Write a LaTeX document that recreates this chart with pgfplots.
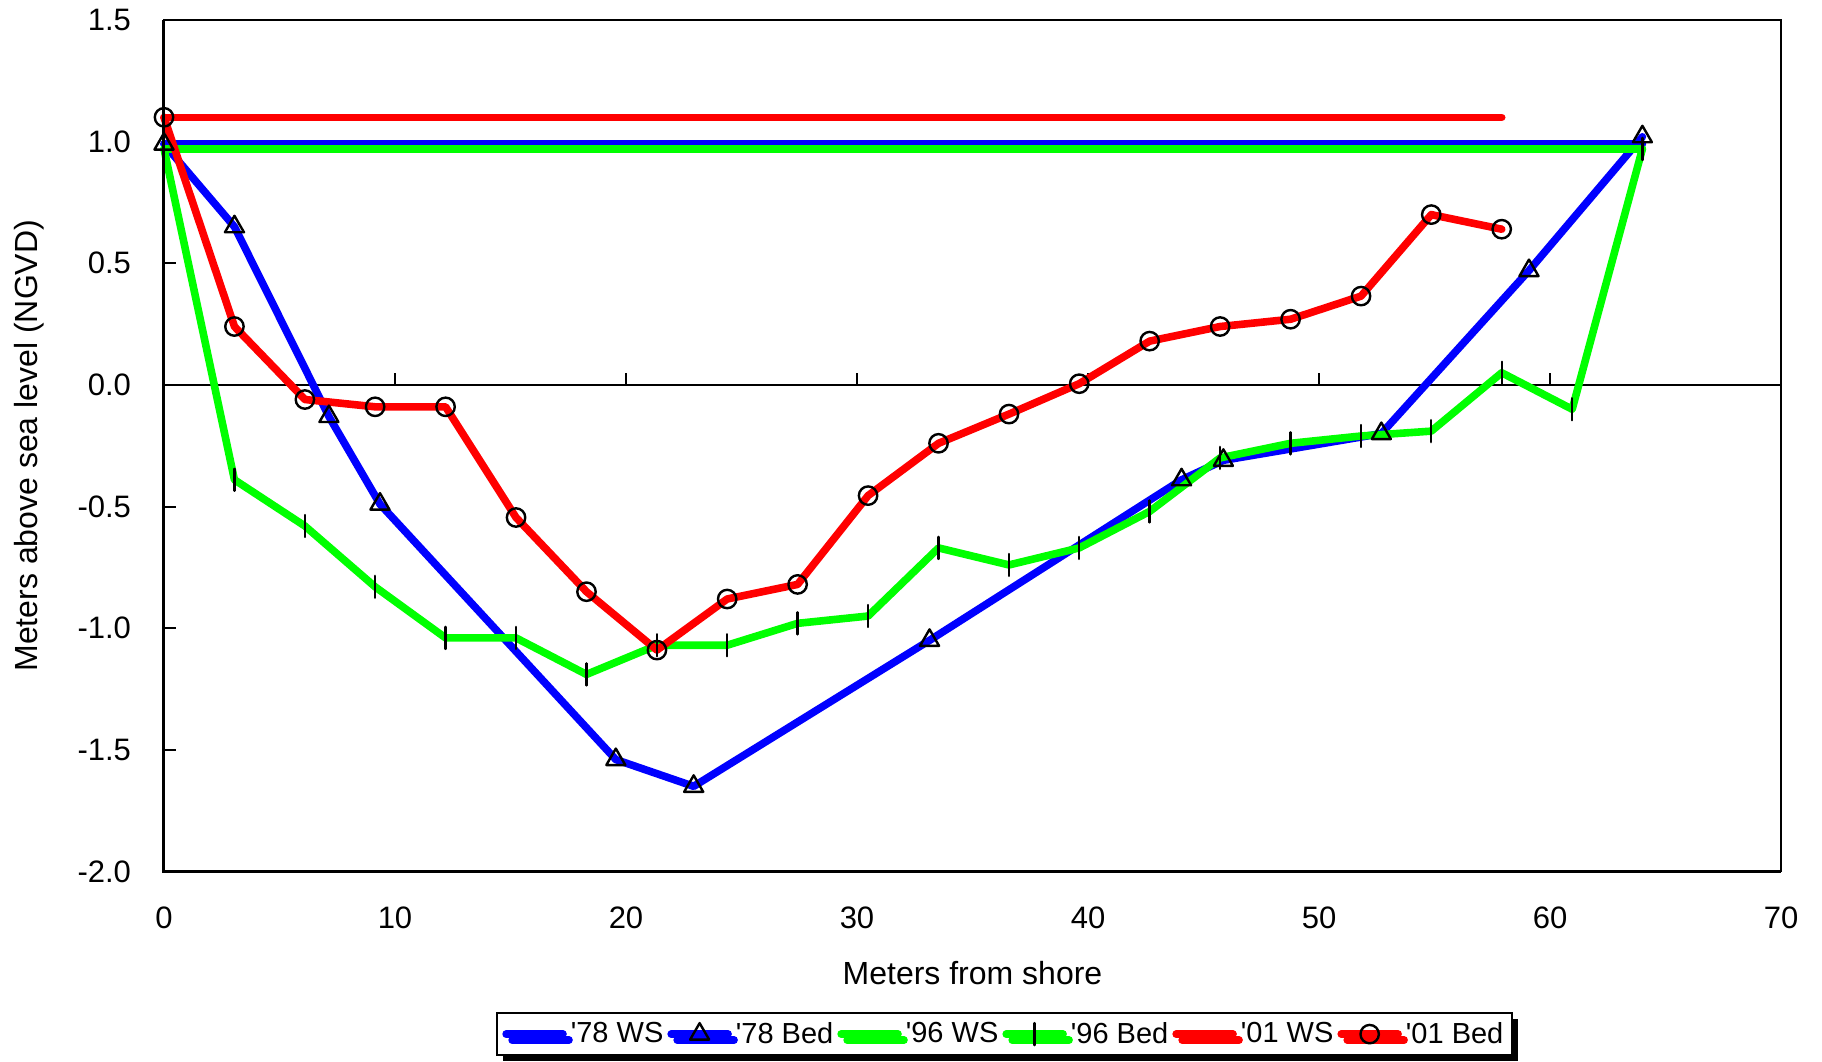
\documentclass[border=0pt]{standalone}
\usepackage{fontspec}
\setmainfont{Liberation Sans}
\usepackage{pgfplots}
\usepackage{pgfplotstable}
\pgfplotsset{compat=1.18}
\usetikzlibrary{shadows}
\definecolor{pblue}{RGB}{0,0,255}
\definecolor{pgreen}{RGB}{0,255,0}
\definecolor{pred}{RGB}{255,0,0}

\pgfplotstableread{
x y
0 0.99
64.0 0.99
}\wsA
\pgfplotstableread{
x y
0 0.99
3.05 0.65
7.14 -0.13
9.35 -0.49
19.56 -1.54
22.93 -1.65
33.14 -1.05
44.05 -0.39
45.86 -0.31
52.70 -0.20
59.09 0.47
64.00 1.02
}\bedA
\pgfplotstableread{
x y
0 0.97
64.0 0.97
}\wsB
\pgfplotstableread{
x y
0 0.97
3.05 -0.39
6.10 -0.58
9.14 -0.83
12.19 -1.04
15.24 -1.04
18.29 -1.19
21.34 -1.07
24.38 -1.07
27.43 -0.98
30.48 -0.95
33.53 -0.67
36.58 -0.74
39.62 -0.67
42.67 -0.52
45.72 -0.30
48.77 -0.24
51.82 -0.21
54.86 -0.19
57.91 0.05
60.96 -0.10
64.00 0.97
}\bedB
\pgfplotstableread{
x y
0 1.10
57.91 1.10
}\wsC
\pgfplotstableread{
x y
0 1.10
3.05 0.24
6.10 -0.06
9.14 -0.09
12.19 -0.09
15.24 -0.545
18.29 -0.85
21.34 -1.09
24.38 -0.88
27.43 -0.82
30.48 -0.455
33.53 -0.24
36.58 -0.12
39.62 0.005
42.67 0.18
45.72 0.24
48.77 0.27
51.82 0.365
54.86 0.70
57.91 0.64
}\bedC

\begin{document}
\begin{tikzpicture}
\begin{axis}[name=ax, scale only axis, width=808.5pt, height=425.75pt,
  xmin=0, xmax=70, ymin=-2, ymax=1.5,
  xtick={0,10,...,70}, ytick={-2,-1.5,...,1.5},
  clip=false,
  axis line style={line width=0.8pt},
  tick align=inside, ytick pos=left, xtick pos=bottom,
  major tick length=6pt,
  xtick style={draw=none}, ytick style={line width=1pt,black},
  /pgf/number format/assume math mode=true,
  ticklabel style={font=\fontsize{15.5}{18}\selectfont},
  yticklabel style={xshift=-13pt,/pgf/number format/.cd,fixed,fixed zerofill,precision=1},
  xticklabel style={yshift=-14pt,/pgf/number format/.cd,fixed,precision=0},
  xlabel={Meters from shore}, ylabel={Meters above sea level (NGVD)},
  label style={font=\fontsize{16}{19}\selectfont},
  xlabel style={at={(axis description cs:0.5,-0.119)}, anchor=center},
  ylabel style={at={(axis description cs:-0.0835,0.5)}, anchor=center},
  every axis plot/.append style={line width=3.8pt, line cap=round, line join=round},
  legend columns=6,
  legend image code/.code={\draw[mark repeat=2,mark phase=2,#1] plot coordinates {(0cm,0cm) (0.5cm,0cm) (1.0cm,0cm)};},
  legend style={at={(axis description cs:0.52,-0.191)}, anchor=center,
    draw=black, line width=1pt, fill=white,
    drop shadow={shadow xshift=3pt, shadow yshift=-3pt, fill=black, opacity=1},
    font=\fontsize{14.5}{16}\selectfont, inner sep=2.5pt,
    /tikz/every even column/.append style={column sep=0pt}},
]
\draw[line width=1pt] (axis cs:0,0) -- (axis cs:70,0);
\pgfplotsinvokeforeach{10,20,30,40,50,60}{ \draw[line width=1pt] (axis cs:#1,0) -- (axis cs:#1,0.05); }
\addplot[pblue] table {\wsA};
\addlegendentry{\textquotesingle78 WS}
\addplot[pblue, mark=triangle, mark size=5.5pt, mark options={black, line width=1.2pt}] table {\bedA};
\addlegendentry{\textquotesingle78 Bed}
\addplot[pgreen] table {\wsB};
\addlegendentry{\textquotesingle96 WS}
\addplot[pgreen, mark=|, mark size=5.5pt, mark options={black, line width=1.2pt}] table {\bedB};
\addlegendentry{\textquotesingle96 Bed}
\addplot[pred] table {\wsC};
\addlegendentry{\textquotesingle01 WS}
\addplot[pred, mark=o, mark size=4.6pt, mark options={black, line width=1.2pt}] table {\bedC};
\addlegendentry{\textquotesingle01 Bed}
\draw[line width=1.5pt] (rel axis cs:0,1) -- (rel axis cs:0,0) -- (rel axis cs:1,0);
\end{axis}
\path (ax.south west) ++(-82pt,-95.25pt) coordinate (bl);
\path (ax.north east) ++(20.5pt,10pt) coordinate (tr);
\path (bl) rectangle (tr);
\end{tikzpicture}
\end{document}
